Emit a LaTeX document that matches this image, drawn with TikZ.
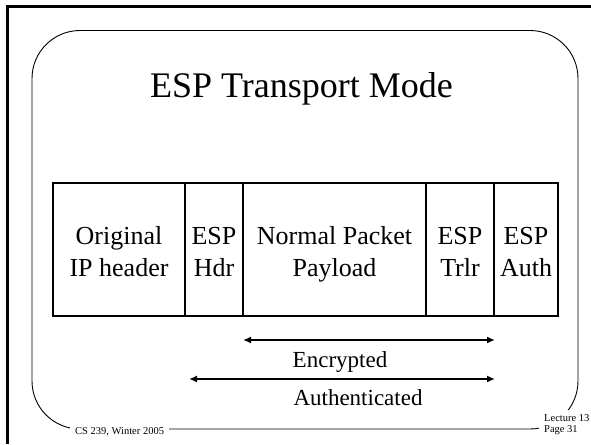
\documentclass[tikz,border=0pt]{standalone}
\usepackage{fontspec}
\setmainfont{Liberation Serif}
\usetikzlibrary{arrows.meta}

\begin{document}
\begin{tikzpicture}[x=1pt,y=-1pt,
  pkt/.style={draw, line width=1.2pt, minimum height=133pt, inner sep=0pt,
    align=center, font=\fontsize{26}{32}\selectfont,
    text height=56pt, text depth=3pt},
  spanarrow/.style={{Latex[length=8pt,width=7pt]}-{Latex[length=8pt,width=7pt]}, line width=2.2pt},
  spanlabel/.style={anchor=base, inner sep=0pt, font=\fontsize{23}{27}\selectfont},
  foot/.style={fill=white, inner xsep=5pt, inner ysep=4pt, font=\fontsize{10.5}{11}\selectfont}]
  \useasboundingbox (0,0) rectangle (591,444);

  % outer slide border
  \draw[line width=3pt] (7.5,444) -- (7.5,6.5) -- (591,6.5);

  % rounded frame
  \draw[line width=0.9pt, rounded corners=48pt] (32,30.5) rectangle (578,429);

  % title
  \node[anchor=base, inner sep=0pt, font=\fontsize{36}{43}\selectfont] (title) at (301.5,97) {ESP Transport Mode};

  % packet fields
  \node[pkt, minimum width=132pt] (ip)   at (119,249.5)   {Original\\IP header};
  \node[pkt, minimum width=58pt]  (hdr)  at (214,249.5)   {ESP\\Hdr};
  \node[pkt, minimum width=183pt] (pay)  at (334.5,249.5) {Normal Packet\\Payload};
  \node[pkt, minimum width=68pt]  (trl)  at (460,249.5)   {ESP\\Trlr};
  \node[pkt, minimum width=64pt]  (auth) at (526,249.5)   {ESP\\Auth};

  % coverage arrows
  \coordinate (encL) at (243,340);
  \coordinate (encR) at (495,340);
  \coordinate (autL) at (189,379);
  \coordinate (autR) at (495,379);
  \draw[spanarrow] (encL) -- (encR);
  \draw[spanarrow] (autL) -- (autR);
  \node[spanlabel] (enc) at (340,367) {Encrypted};
  \node[spanlabel] (aut) at (358,405) {Authenticated};

  % footer
  \node[foot, anchor=base west] (course) at (70,434.5) {CS 239, Winter 2005};
  \node[foot, anchor=north west, align=left] (page) at (539,410) {Lecture 13\\Page 31};
\end{tikzpicture}
\end{document}
